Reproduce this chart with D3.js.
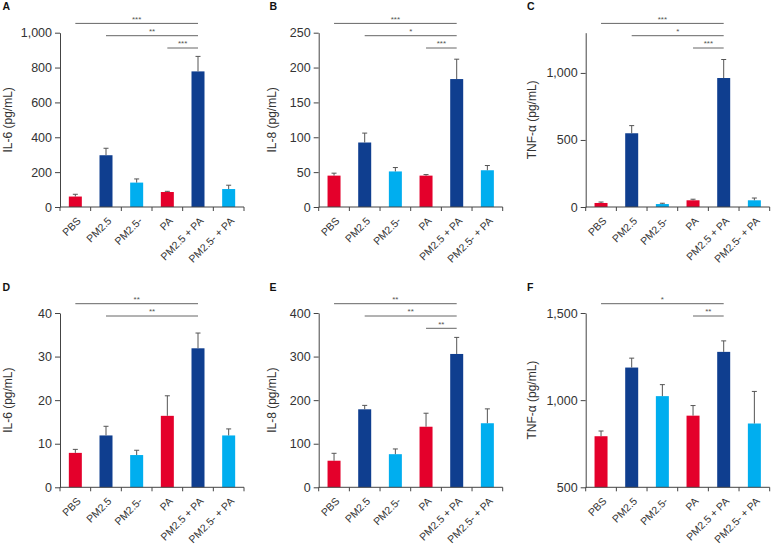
<!DOCTYPE html>
<html><head><meta charset="utf-8">
<script src="https://cdn.jsdelivr.net/npm/d3@7"></script>
<style>html,body{margin:0;padding:0;background:#fff}svg{display:block}</style>
</head><body>
<script>
// ---------- DATA ----------
const categories = ["PBS", "PM2.5", "PM2.5-", "PA", "PM2.5 + PA", "PM2.5- + PA"];
const groupColor = ["red", "dark", "light", "red", "dark", "light"];

const il6A = [60, 297, 140, 86, 778, 103];
const il6AErr = [13, 40, 21, 4, 86, 22];
const il8B = [45, 92.5, 51, 45, 183.5, 52.7];
const il8BErr = [3.5, 13.5, 5.6, 1.5, 28.5, 6.8];
const tnfC = [30, 550, 22, 50, 962, 50];
const tnfCErr = [7, 57, 6, 8, 138, 17];
const il6D = [7.9, 11.9, 7.4, 16.4, 31.9, 11.9];
const il6DErr = [0.8, 2.1, 1.1, 4.6, 3.5, 1.5];
const il8E = [61, 179, 76, 139, 306, 147];
const il8EErr = [17, 9, 12, 31, 38, 33];
const tnfF = [793, 1187, 1023, 911, 1277, 866];
const tnfFErr = [30, 54, 66, 58, 63, 184];

const ticksA = [0, 200, 400, 600, 800, 1000];
const ticksB = [0, 50, 100, 150, 200, 250];
const ticksC = [0, 500, 1000];
const ticksD = [0, 10, 20, 30, 40];
const ticksE = [0, 100, 200, 300, 400];
const ticksF = [500, 1000, 1500];

// significance: [fromIndex, toIndex, label, level]
const sigA = [[0, 4, "***", 0], [1, 4, "**", 1], [3, 4, "***", 2]];
const sigB = [[0, 4, "***", 0], [1, 4, "*", 1], [3, 4, "***", 2]];
const sigC = [[0, 4, "***", 0], [1, 4, "*", 1], [3, 4, "***", 2]];
const sigD = [[0, 4, "**", 0], [1, 4, "**", 1]];
const sigE = [[0, 4, "**", 0], [1, 4, "**", 1], [3, 4, "**", 2]];
const sigF = [[0, 4, "*", 0], [3, 4, "**", 1]];

// ---------- STYLE / LAYOUT ----------
const colors = { red: "#e4002b", dark: "#0f3e8f", light: "#00aeef" };
const FONT = "'Liberation Sans', Arial, Helvetica, sans-serif";
const colLeft = [60, 318.7, 585.7];
const colTitleX = [8, 272, 532];
const colLetterX = [2.5, 269.5, 527];
const rowTop = [32.7, 313];
const rowLetterY = [9.5, 290.5];
const plotH = 174.3;
const plotW = 184;

const panels = [
  { letter: "A", title: "IL-6 (pg/mL)", v: il6A, e: il6AErr, dom: [0, 1000], ticks: ticksA, sig: sigA, c: 0, r: 0 },
  { letter: "B", title: "IL-8 (pg/mL)", v: il8B, e: il8BErr, dom: [0, 250], ticks: ticksB, sig: sigB, c: 1, r: 0 },
  { letter: "C", title: "TNF-α (pg/mL)", v: tnfC, e: tnfCErr, dom: [0, 1300], ticks: ticksC, sig: sigC, c: 2, r: 0 },
  { letter: "D", title: "IL-6 (pg/mL)", v: il6D, e: il6DErr, dom: [0, 40], ticks: ticksD, sig: sigD, c: 0, r: 1 },
  { letter: "E", title: "IL-8 (pg/mL)", v: il8E, e: il8EErr, dom: [0, 400], ticks: ticksE, sig: sigE, c: 1, r: 1 },
  { letter: "F", title: "TNF-α (pg/mL)", v: tnfF, e: tnfFErr, dom: [500, 1500], ticks: ticksF, sig: sigF, c: 2, r: 1 }
];

const svg = d3.select("body").append("svg")
  .attr("width", 771).attr("height", 547)
  .style("font-family", FONT);
svg.append("rect").attr("width", 771).attr("height", 547).attr("fill", "#fff");

panels.forEach(p => {
  const left = colLeft[p.c], top = rowTop[p.r], bottom = top + plotH;
  const x = d3.scaleBand().domain(categories).range([left, left + plotW]).padding(0);
  const y = d3.scaleLinear().domain(p.dom).range([bottom, top]);
  const g = svg.append("g");
  const barW = 13;
  const cx = c => x(c) + x.bandwidth() / 2;

  // bars
  g.selectAll("rect.bar").data(categories).join("rect")
    .attr("x", c => cx(c) - barW / 2)
    .attr("width", barW)
    .attr("y", (c, i) => y(p.v[i]))
    .attr("height", (c, i) => y(p.dom[0]) - y(p.v[i]))
    .attr("fill", (c, i) => colors[groupColor[i]]);

  // error bars (upper only)
  const eb = g.selectAll("g.err").data(categories).join("g");
  eb.append("line")
    .attr("x1", c => cx(c)).attr("x2", c => cx(c))
    .attr("y1", (c, i) => y(p.v[i])).attr("y2", (c, i) => y(p.v[i] + p.e[i]))
    .attr("stroke", "#555").attr("stroke-width", 1);
  eb.append("line")
    .attr("x1", c => cx(c) - 2.5).attr("x2", c => cx(c) + 2.5)
    .attr("y1", (c, i) => y(p.v[i] + p.e[i])).attr("y2", (c, i) => y(p.v[i] + p.e[i]))
    .attr("stroke", "#555").attr("stroke-width", 1);

  // y axis
  const ya = g.append("g").attr("transform", `translate(${left},0)`)
    .call(d3.axisLeft(y).tickValues(p.ticks).tickSize(5).tickSizeOuter(0).tickPadding(3).tickFormat(d3.format(",")));
  ya.select(".domain").attr("stroke", "#444");
  ya.selectAll(".tick line").attr("stroke", "#444");
  ya.selectAll(".tick text").attr("fill", "#333").style("font-size", "12.5px").style("font-family", FONT);

  // x axis line + boundary ticks
  g.append("line").attr("x1", left).attr("x2", left + plotW)
    .attr("y1", bottom).attr("y2", bottom).attr("stroke", "#444");
  const bounds = categories.map(c => x(c)).concat([x(categories[categories.length - 1]) + x.bandwidth()]);
  g.selectAll("line.xt").data(bounds).join("line")
    .attr("x1", d => d).attr("x2", d => d)
    .attr("y1", bottom).attr("y2", bottom + 4).attr("stroke", "#444");

  // category labels
  g.selectAll("text.cat").data(categories).join("text")
    .attr("transform", c => `translate(${cx(c) + 3.6},${bottom + 12}) rotate(-45)`)
    .attr("text-anchor", "end").attr("dy", "0.35em")
    .style("font-size", "10.5px").attr("fill", "#333")
    .text(c => c);

  // y title
  g.append("text")
    .attr("transform", `translate(${colTitleX[p.c]},${(top + bottom) / 2}) rotate(-90)`)
    .attr("text-anchor", "middle").attr("dy", "0.35em")
    .style("font-size", "12px").attr("fill", "#333")
    .text(p.title);

  // panel letter
  g.append("text").attr("x", colLetterX[p.c]).attr("y", rowLetterY[p.r])
    .style("font-size", "10.5px").style("font-weight", "bold").attr("fill", "#111")
    .text(p.letter);

  // significance
  const sg = g.selectAll("g.sig").data(p.sig).join("g");
  const ly = d => top - 9.3 + 12.3 * d[3];
  sg.append("line")
    .attr("x1", d => cx(categories[d[0]])).attr("x2", d => cx(categories[d[1]]))
    .attr("y1", ly).attr("y2", ly).attr("stroke", "#666").attr("stroke-width", 1);
  sg.append("text")
    .attr("x", d => (cx(categories[d[0]]) + cx(categories[d[1]])) / 2)
    .attr("y", d => ly(d) - 1.8)
    .attr("text-anchor", "middle").style("font-size", "8px").attr("fill", "#555")
    .text(d => d[2]);
});
</script>
</body></html>
